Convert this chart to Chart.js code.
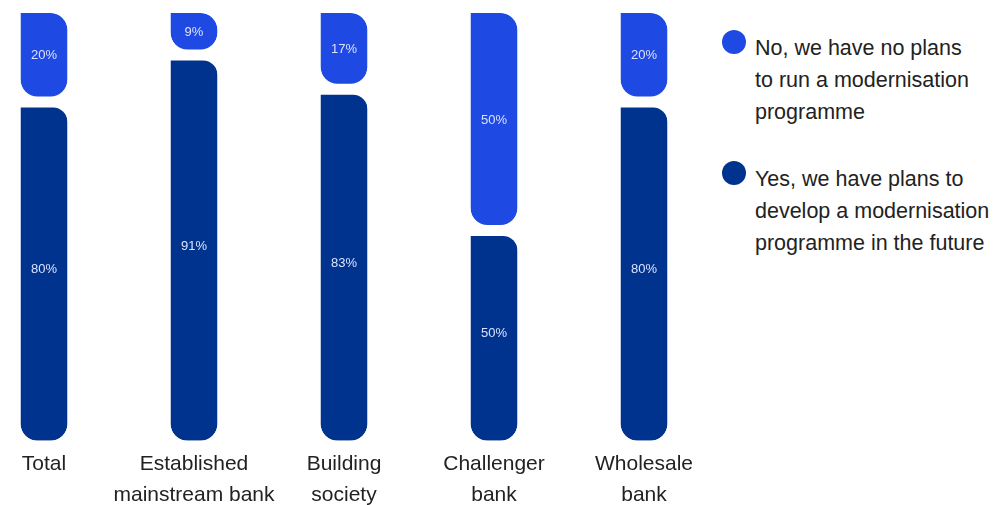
<!DOCTYPE html>
<html>
<head>
<meta charset="utf-8">
<script src="https://cdn.jsdelivr.net/npm/chart.js@4"></script>
<style>
  html, body { margin: 0; padding: 0; background: #fff; overflow: hidden; }
  body { width: 993px; height: 505px; position: relative; font-family: "Liberation Sans", Arial, sans-serif; }
  #chartBox { position: absolute; left: -31px; top: 0; width: 750px; height: 511px; }
  .legend { position: absolute; left: 722px; color: #222; font-size: 21.5px; line-height: 32px; }
  .legend .dot { position: absolute; left: 0; top: 0; width: 24px; height: 24px; border-radius: 50%; }
  .legend .txt { position: absolute; left: 33px; top: 2px; white-space: nowrap; }
</style>
</head>
<body>
<div id="chartBox"><canvas id="myChart"></canvas></div>
<div class="legend" style="top:30px"><span class="dot" style="background:#1e49e2"></span><div class="txt">No, we have no plans<br>to run a modernisation<br>programme</div></div>
<div class="legend" style="top:161px"><span class="dot" style="background:#00338d"></span><div class="txt">Yes, we have plans to<br>develop a modernisation<br>programme in the future</div></div>
<script>
const categories = [
    ['Total'],
    ['Established', 'mainstream bank'],
    ['Building', 'society'],
    ['Challenger', 'bank'],
    ['Wholesale', 'bank']
];
const noPlans = [20, 9, 17, 50, 20];
const yesPlans = [80, 91, 83, 50, 80];

const lightBlue = '#1e49e2';
const darkBlue = '#00338d';
// white gap between the two segments, split between them
const gapBelow = 2;
const gapAbove = 9;

// writes the percentage in the middle of each segment
const segmentLabels = {
    id: 'segmentLabels',
    afterDatasetsDraw(chart) {
        const ctx = chart.ctx;
        ctx.save();
        ctx.font = '13px "Liberation Sans", Arial, sans-serif';
        ctx.fillStyle = '#dbe2ff';
        ctx.textAlign = 'center';
        ctx.textBaseline = 'middle';
        chart.data.datasets.forEach((ds, i) => {
            chart.getDatasetMeta(i).data.forEach((bar, j) => {
                const c = bar.getCenterPoint();
                ctx.fillText(ds.data[j] + '%', c.x, c.y);
            });
        });
        ctx.restore();
    }
};

const data = {
    labels: categories,
    datasets: [{
        label: 'Yes, we have plans to develop a modernisation programme in the future',
        data: yesPlans,
        backgroundColor: darkBlue,
        borderColor: '#ffffff',
        borderWidth: { top: gapAbove, bottom: 0, left: 0, right: 0 },
        borderRadius: { topLeft: 0, topRight: 17 + gapAbove, bottomLeft: 17, bottomRight: 17 },
        borderSkipped: false
    }, {
        label: 'No, we have no plans to run a modernisation programme',
        data: noPlans,
        backgroundColor: lightBlue,
        borderColor: '#ffffff',
        borderWidth: { top: 0, bottom: gapBelow, left: 0, right: 0 },
        borderRadius: { topLeft: 0, topRight: 17, bottomLeft: 17 + gapBelow, bottomRight: 17 + gapBelow },
        borderSkipped: false
    }]
};

const config = {
    type: 'bar',
    data: data,
    options: {
        responsive: true,
        maintainAspectRatio: false,
        animation: false,
        inflateAmount: 0,
        barThickness: 47,
        layout: { padding: { top: 13, left: 0, right: 0, bottom: 0 } },
        plugins: {
            legend: { display: false },
            tooltip: { enabled: false }
        },
        scales: {
            x: {
                stacked: true,
                grid: { display: false },
                border: { display: false },
                ticks: {
                    color: '#222',
                    padding: 0,
                    maxRotation: 0,
                    autoSkip: false,
                    font: { family: '"Liberation Sans", Arial, sans-serif', size: 21, lineHeight: 1.48 }
                }
            },
            y: {
                stacked: true,
                display: false,
                min: 0,
                max: 100
            }
        }
    },
    plugins: [segmentLabels]
};

const myChart = new Chart(
    document.getElementById('myChart'),
    config
);
</script>
</body>
</html>
